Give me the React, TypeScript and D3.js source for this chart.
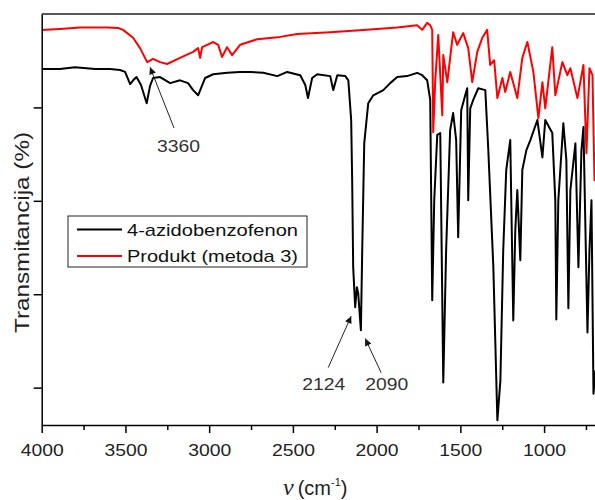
import React, { useEffect, useRef } from 'react';
import * as d3 from 'd3';

// wavenumber (cm-1), transmittance (%)
const azidePoints: [number, number][] = [
  [4000, 88.2], [3891, 88.2], [3801, 88.6], [3681, 88.2], [3592, 88.2], [3532, 88.0], [3502, 87.6],
  [3472, 85.0], [3454, 85.8], [3434, 86.5], [3407, 84.8], [3373, 80.9], [3353, 84.6], [3335, 86.3],
  [3293, 86.5], [3233, 85.2], [3174, 85.8], [3126, 85.2], [3096, 83.7], [3066, 82.6], [3048, 84.2],
  [3024, 86.3], [2976, 87.1], [2892, 87.4], [2815, 87.6], [2755, 87.6], [2677, 87.4], [2593, 86.7],
  [2534, 87.6], [2456, 86.9], [2426, 84.8], [2410, 82.0], [2385, 86.3], [2355, 87.1], [2277, 86.7],
  [2259, 83.7], [2235, 86.9], [2187, 86.7], [2169, 85.8], [2152, 77.3], [2146, 64.4], [2140, 45.8],
  [2128, 37.2], [2118, 41.5], [2110, 40.2], [2094, 32.3], [2086, 49.4], [2074, 72.3], [2050, 80.9],
  [2020, 82.6], [1960, 83.7], [1919, 85.2], [1877, 86.5], [1818, 86.7], [1758, 87.4], [1728, 86.9],
  [1698, 85.8], [1680, 81.6], [1668, 38.7], [1656, 60.1], [1638, 74.1], [1620, 74.5], [1602, 21.1],
  [1585, 49.4], [1561, 75.1], [1543, 78.8], [1525, 73.0], [1513, 52.2], [1495, 79.4], [1471, 82.6],
  [1459, 84.1], [1453, 60.1], [1441, 79.8], [1423, 81.6], [1393, 84.1], [1351, 83.7], [1333, 70.8],
  [1303, 45.8], [1279, 13.0], [1261, 21.5], [1244, 49.4], [1226, 66.6], [1202, 73.0], [1184, 34.4],
  [1172, 53.7], [1160, 62.3], [1142, 47.3], [1130, 66.6], [1106, 70.8], [1082, 73.0], [1040, 77.3],
  [1010, 69.3], [993, 77.3], [951, 74.5], [933, 60.1], [927, 34.6], [915, 60.1], [885, 76.6],
  [867, 68.7], [855, 37.0], [843, 62.3], [813, 72.3], [795, 45.8], [777, 70.8], [765, 75.8],
  [741, 31.8], [729, 49.4], [717, 60.1], [705, 18.7], [693, 23.7],
];

const productPoints: [number, number][] = [
  [4000, 96.6], [3891, 96.8], [3771, 97.1], [3610, 97.1], [3544, 97.0], [3514, 96.6], [3454, 94.9],
  [3413, 92.7], [3370, 89.7], [3335, 90.4], [3293, 89.7], [3251, 89.3], [3174, 90.6], [3096, 91.9],
  [3066, 92.7], [3054, 90.6], [3042, 92.9], [3012, 93.4], [2976, 94.0], [2946, 93.4], [2923, 90.8],
  [2893, 92.9], [2863, 91.2], [2815, 93.4], [2713, 94.6], [2576, 95.1], [2474, 95.7], [2277, 96.1],
  [2080, 96.6], [1877, 97.1], [1758, 97.6], [1728, 96.6], [1698, 98.1], [1680, 97.6], [1668, 96.6],
  [1662, 74.7], [1650, 85.8], [1632, 95.5], [1608, 78.3], [1602, 91.2], [1578, 85.4], [1543, 96.1],
  [1519, 93.4], [1483, 95.9], [1453, 92.7], [1429, 85.4], [1399, 91.9], [1369, 94.9], [1340, 96.6],
  [1322, 89.1], [1298, 90.1], [1279, 82.0], [1249, 86.3], [1232, 83.3], [1202, 87.6], [1160, 82.0],
  [1130, 90.6], [1100, 94.0], [1064, 87.6], [1034, 77.7], [1010, 85.4], [993, 79.8], [951, 92.9],
  [933, 82.6], [891, 89.7], [861, 86.9], [843, 88.4], [801, 82.0], [765, 89.1], [747, 70.2],
  [729, 88.4], [711, 86.9], [699, 64.4], [693, 67.0],
];

const xMajorTicks = [4000, 3500, 3000, 2500, 2000, 1500, 1000];
const xMinorTicks = [3750, 3250, 2750, 2250, 1750, 1250, 750];
const yTicks = [20, 40, 60, 80];

const seriesNames = ['4-azidobenzofenon', 'Produkt (metoda 3)'];
const seriesColors = ['#000000', '#ff0000'];

// peak annotations: label, arrow tip, arrow tail, label anchor (wavenumber, T)
const peakLabels = ['3360', '2124', '2090'];
const peakTips: [number, number][] = [[3353, 88.6], [2152, 35.3], [2068, 30.5]];
const peakTails: [number, number][] = [[3210, 75.6], [2289, 24.3], [1973, 23.2]];
const peakTextAt: [number, number][] = [[3183, 70.4], [2316, 19.4], [1939, 19.4]];

const FONT = "'Liberation Sans', Arial, sans-serif";

const App = () => {
  const svgRef = useRef<SVGSVGElement>(null);

  useEffect(() => {
    const width = 595;
    const height = 500;
    const left = 41.7;
    const top = 14;
    const bottom = 425;

    const svg = d3.select(svgRef.current);
    svg.selectAll('*').remove();
    svg.attr('width', width).attr('height', height);

    const x = d3.scaleLinear().domain([4000, 690]).range([left, 596]);
    const y = d3.scaleLinear().domain([12, 100]).range([bottom, top]);

    const defs = svg.append('defs');
    defs.append('clipPath').attr('id', 'plot-clip')
      .append('rect')
      .attr('x', left).attr('y', top)
      .attr('width', width - left).attr('height', bottom - top);

    defs.append('marker')
      .attr('id', 'arrowhead')
      .attr('viewBox', '0 0 10 10')
      .attr('refX', 10).attr('refY', 5)
      .attr('markerWidth', 9).attr('markerHeight', 7)
      .attr('markerUnits', 'userSpaceOnUse')
      .attr('orient', 'auto')
      .append('path')
      .attr('d', 'M0,0 L10,5 L0,10 Z')
      .attr('fill', '#111');

    // spectra
    const line = d3.line<[number, number]>()
      .x(d => x(d[0]))
      .y(d => y(d[1]));

    const plot = svg.append('g').attr('clip-path', 'url(#plot-clip)');
    [productPoints, azidePoints].forEach((pts, i) => {
      plot.append('path')
        .datum(pts)
        .attr('d', line)
        .attr('fill', 'none')
        .attr('stroke', seriesColors[1 - i])
        .attr('stroke-width', 2)
        .attr('stroke-linejoin', 'round');
    });

    // frame top
    svg.append('line')
      .attr('x1', left).attr('x2', width)
      .attr('y1', top).attr('y2', top)
      .attr('stroke', '#222').attr('stroke-width', 1.5);

    // x axis
    const xAxis = svg.append('g')
      .attr('transform', `translate(0,${bottom})`)
      .call(d3.axisBottom(x).tickValues(xMajorTicks).tickSize(8).tickSizeOuter(0).tickFormat(d3.format('d')));
    xAxis.select('.domain').attr('stroke-width', 1.5);
    xAxis.selectAll('.tick line').attr('stroke-width', 1.5);
    xAxis.selectAll('.tick text')
      .attr('y', 31)
      .attr('dy', 0)
      .attr('fill', '#222')
      .attr('font-family', FONT)
      .attr('font-size', 17)
      .attr('textLength', 43)
      .attr('lengthAdjust', 'spacingAndGlyphs');

    svg.append('g')
      .attr('transform', `translate(0,${bottom})`)
      .call(d3.axisBottom(x).tickValues(xMinorTicks).tickSize(5).tickFormat(() => ''))
      .call(g => g.select('.domain').remove())
      .selectAll('.tick line').attr('stroke-width', 1.5);

    // y axis
    const yAxis = svg.append('g')
      .attr('transform', `translate(${left},0)`)
      .call(d3.axisLeft(y).tickValues(yTicks).tickSize(8).tickSizeOuter(0).tickFormat(() => ''));
    yAxis.select('.domain').attr('stroke-width', 1.5);
    yAxis.selectAll('.tick line').attr('stroke-width', 1.5);

    // axis titles
    svg.append('text')
      .attr('transform', `translate(29,${(132 + 333) / 2}) rotate(-90)`)
      .attr('text-anchor', 'middle')
      .attr('font-family', FONT)
      .attr('font-size', 20)
      .attr('fill', '#222')
      .attr('textLength', 201)
      .attr('lengthAdjust', 'spacingAndGlyphs')
      .text('Transmitancija (%)');

    const xTitle = svg.append('text')
      .attr('x', 283)
      .attr('y', 495)
      .attr('font-family', FONT)
      .attr('font-size', 20)
      .attr('fill', '#222');
    xTitle.append('tspan')
      .attr('font-family', "'Liberation Serif', 'Times New Roman', serif")
      .attr('font-style', 'italic')
      .attr('font-size', 24)
      .text('ν');
    xTitle.append('tspan').attr('dx', 4).text('(cm');
    xTitle.append('tspan').attr('dy', -9).attr('font-size', 11).text('-1');
    xTitle.append('tspan').attr('dy', 9).text(')');

    // legend
    const legend = svg.append('g');
    legend.append('rect')
      .attr('x', 68).attr('y', 216)
      .attr('width', 239).attr('height', 51)
      .attr('fill', 'white')
      .attr('stroke', '#222')
      .attr('stroke-width', 1);
    seriesNames.forEach((name, i) => {
      const cy = 229.5 + i * 26.5;
      legend.append('line')
        .attr('x1', 77).attr('x2', 122)
        .attr('y1', cy).attr('y2', cy)
        .attr('stroke', seriesColors[i])
        .attr('stroke-width', 2);
      legend.append('text')
        .attr('x', 127)
        .attr('y', cy + 6)
        .attr('font-family', FONT)
        .attr('font-size', 17)
        .attr('fill', '#111')
        .attr('textLength', 171)
        .attr('lengthAdjust', 'spacingAndGlyphs')
        .text(name);
    });

    // peak annotations
    peakLabels.forEach((label, i) => {
      svg.append('line')
        .attr('x1', x(peakTails[i][0])).attr('y1', y(peakTails[i][1]))
        .attr('x2', x(peakTips[i][0])).attr('y2', y(peakTips[i][1]))
        .attr('stroke', '#222')
        .attr('stroke-width', 1)
        .attr('marker-end', 'url(#arrowhead)');
      svg.append('text')
        .attr('x', x(peakTextAt[i][0]))
        .attr('y', y(peakTextAt[i][1]))
        .attr('text-anchor', 'middle')
        .attr('font-family', FONT)
        .attr('font-size', 17)
        .attr('fill', '#333')
        .attr('textLength', 43)
        .attr('lengthAdjust', 'spacingAndGlyphs')
        .text(label);
    });
  }, []);

  return (
    <svg ref={svgRef} style={{ position: 'absolute', left: 0, top: 0, background: 'white' }}></svg>
  );
};

export default App;
